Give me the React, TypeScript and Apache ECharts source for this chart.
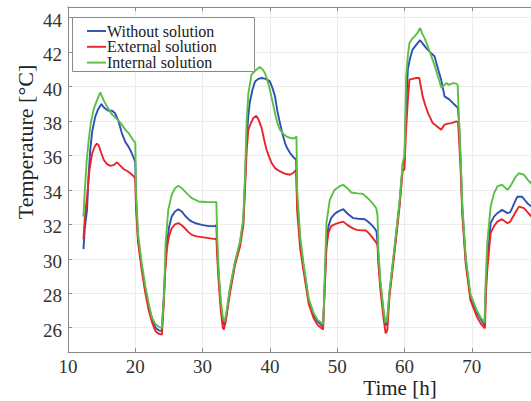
import React, { useEffect, useRef } from "react";
import * as echarts from "echarts";

const seriesNames = ["Without solution", "External solution", "Internal solution"];
const seriesColors = ["#2f4fb5", "#e8262a", "#5bbf45"];

const withoutSolution: [number, number][] = [
  [12.3, 30.56], [12.5, 31.8], [12.83, 32.84], [13.05, 34.8], [13.3, 36.3], [13.6, 37.4], [14.06, 38.27], [14.5, 38.7], [14.96, 38.99], [15.3, 38.8], [15.6, 38.7], [16.0, 38.6], [16.55, 38.6], [17.0, 38.45], [17.5, 38.0], [18.0, 37.3], [18.5, 36.8], [19.0, 36.5], [19.4, 36.2], [19.78, 35.85], [20.0, 35.6],
  [20.1, 33.5], [20.4, 31.2], [20.97, 29.5], [21.5, 28.2], [22.0, 27.2], [22.5, 26.5], [23.0, 26.0], [23.5, 25.85], [23.95, 25.8],
  [24.2, 27.5], [24.45, 29.5], [24.7, 30.9], [25.0, 31.8], [25.4, 32.45], [25.9, 32.75], [26.4, 32.88], [26.9, 32.75], [27.4, 32.5], [27.9, 32.3], [28.4, 32.16], [29.1, 32.05], [29.9, 31.97], [30.9, 31.9], [31.9, 31.9], [32.05, 31.95],
  [32.15, 30.8], [32.4, 28.9], [32.7, 27.4], [33.0, 26.4], [33.25, 26.15], [33.5, 26.6], [34.06, 28.2], [34.8, 29.74], [35.55, 30.9], [36.04, 32.07], [36.3, 34.4], [36.55, 37.0], [36.8, 38.3], [37.0, 39.05], [37.4, 39.8], [37.8, 40.3], [38.3, 40.45], [38.77, 40.5], [39.4, 40.45], [40.0, 40.3], [40.4, 39.9], [40.76, 39.43], [41.1, 38.6], [41.5, 37.88], [41.9, 37.2], [42.25, 36.72], [42.6, 36.4], [43.0, 36.14], [43.5, 35.9], [43.9, 35.75],
  [44.05, 33.4], [44.5, 31.0], [45.0, 29.55], [45.76, 27.6], [46.5, 26.74], [47.1, 26.35], [47.9, 26.05],
  [48.1, 28.0], [48.4, 30.9], [48.7, 31.9], [49.1, 32.36], [49.6, 32.6], [50.1, 32.74], [50.9, 32.88], [51.6, 32.6], [52.4, 32.36], [53.2, 32.33], [54.1, 32.3], [54.6, 32.15], [55.1, 31.97], [55.5, 31.8], [55.85, 31.58],
  [56.05, 30.6], [56.4, 28.6], [56.9, 26.84], [57.2, 26.15], [57.4, 26.2], [57.77, 28.0], [58.5, 30.5], [59.26, 33.2], [59.75, 35.5], [60.0, 35.7], [60.2, 38.5], [60.5, 41.0], [60.8, 41.6], [61.2, 42.15], [61.8, 42.45], [62.33, 42.69], [62.8, 42.45], [63.2, 42.25], [63.8, 42.0], [64.46, 41.76], [65.0, 41.0], [65.45, 40.4], [65.95, 39.43], [66.7, 39.24], [67.3, 39.0], [67.93, 38.76],
  [68.1, 38.0], [68.33, 35.75], [68.6, 32.84], [69.1, 29.94], [69.8, 27.8], [70.8, 26.84], [71.4, 26.45], [71.9, 26.15],
  [72.1, 28.5], [72.3, 29.74], [72.8, 32.07], [73.3, 32.45], [73.8, 32.65], [74.5, 32.84], [75.3, 32.65], [75.7, 32.7], [76.0, 32.94], [76.4, 33.3], [76.75, 33.6], [77.5, 33.6], [77.9, 33.4], [78.25, 33.23], [79, 33.0],
];

const externalSolution: [number, number][] = [
  [12.3, 31.14], [12.5, 32.4], [12.83, 33.6], [13.2, 35.2], [13.57, 36.1], [14.0, 36.55], [14.3, 36.68], [14.55, 36.6], [14.8, 36.3], [15.3, 35.75], [15.8, 35.5], [16.3, 35.4], [16.8, 35.45], [17.3, 35.6], [17.8, 35.4], [18.3, 35.2], [18.8, 35.1], [19.3, 34.95], [19.8, 34.78], [20.0, 34.6],
  [20.1, 33.0], [20.4, 31.0], [20.97, 29.3], [21.5, 28.0], [22.0, 27.0], [22.5, 26.3], [23.0, 25.8], [23.5, 25.65], [23.95, 25.6],
  [24.2, 27.2], [24.45, 29.3], [24.7, 30.6], [25.0, 31.3], [25.4, 31.76], [25.9, 32.0], [26.4, 32.07], [26.9, 31.95], [27.4, 31.76], [27.9, 31.55], [28.4, 31.39], [29.1, 31.3], [29.9, 31.26], [30.9, 31.2], [31.9, 31.14], [32.05, 31.2],
  [32.15, 30.3], [32.4, 28.6], [32.7, 27.0], [33.0, 26.0], [33.15, 25.9], [33.4, 26.3], [34.06, 28.0], [34.8, 29.6], [35.55, 30.7], [36.04, 31.9], [36.3, 34.0], [36.55, 36.3], [36.8, 37.5], [37.2, 37.9], [37.53, 38.17], [38.0, 38.3], [38.3, 38.1], [38.77, 37.6], [39.1, 37.0], [39.5, 36.33], [39.9, 35.9], [40.26, 35.56], [40.8, 35.25], [41.5, 35.07], [42.2, 34.95], [43.0, 34.88], [43.5, 35.0], [43.9, 35.17],
  [44.05, 32.8], [44.5, 30.6], [45.0, 29.3], [45.76, 27.4], [46.5, 26.55], [47.1, 26.15], [47.9, 25.9],
  [48.1, 27.8], [48.4, 30.6], [48.7, 31.5], [49.1, 31.9], [49.6, 32.0], [50.1, 32.07], [50.9, 32.16], [51.4, 32.0], [51.9, 31.87], [52.4, 31.75], [52.9, 31.68], [53.6, 31.65], [54.3, 31.64], [54.8, 31.45], [55.3, 31.2], [55.7, 31.0], [56.0, 30.8],
  [56.1, 29.8], [56.4, 28.3], [56.9, 26.5], [57.2, 25.67], [57.45, 25.85], [57.77, 27.8], [58.5, 30.3], [59.26, 33.0], [59.75, 35.2], [60.0, 35.17], [60.2, 37.2], [60.5, 39.24], [60.74, 40.4], [61.2, 40.45], [61.74, 40.5], [62.2, 40.5], [62.7, 39.43], [63.1, 38.9], [63.5, 38.46], [64.2, 37.88], [64.8, 37.7], [65.45, 37.5], [65.95, 37.79], [66.5, 37.85], [66.95, 37.88], [67.7, 37.98], [67.95, 37.95],
  [68.1, 37.0], [68.33, 35.3], [68.6, 32.5], [69.1, 29.7], [69.8, 27.6], [70.8, 26.6], [71.4, 26.2], [71.96, 25.97],
  [72.1, 28.0], [72.3, 29.36], [72.8, 31.49], [73.3, 31.9], [73.8, 32.16], [74.5, 32.3], [75.3, 32.07], [75.7, 32.15], [76.0, 32.36], [76.5, 32.7], [77.0, 33.03], [77.75, 32.94], [78.3, 32.7], [79, 32.4],
];

const internalSolution: [number, number][] = [
  [12.3, 32.45], [12.5, 34.0], [12.8, 35.8], [13.08, 36.9], [13.4, 37.9], [13.8, 38.66], [14.3, 39.2], [14.8, 39.66], [15.3, 39.2], [15.8, 38.85], [16.5, 38.4], [17.3, 38.1], [17.9, 37.85], [18.5, 37.5], [19.0, 37.3], [19.5, 37.0], [20.0, 36.72],
  [20.1, 34.0], [20.4, 31.5], [20.97, 29.7], [21.5, 28.4], [22.0, 27.4], [22.45, 26.6], [23.0, 26.2], [23.5, 26.05], [23.95, 25.98],
  [24.1, 27.0], [24.29, 28.0], [24.5, 30.9], [24.9, 32.84], [25.4, 33.7], [25.9, 34.1], [26.4, 34.24], [26.9, 34.1], [27.4, 33.9], [27.9, 33.7], [28.4, 33.52], [29.4, 33.33], [30.5, 33.3], [31.9, 33.29], [32.05, 33.3],
  [32.15, 31.5], [32.4, 29.2], [32.7, 27.6], [33.0, 26.6], [33.25, 26.35], [33.5, 26.8], [34.06, 28.3], [34.8, 29.8], [35.55, 31.0], [36.04, 32.3], [36.3, 34.8], [36.55, 38.0], [36.8, 39.6], [37.28, 40.7], [37.9, 40.95], [38.5, 41.14], [38.9, 41.0], [39.25, 40.79], [39.6, 40.4], [40.0, 39.82], [40.4, 39.1], [40.76, 38.46], [41.1, 37.9], [41.5, 37.5], [42.0, 37.25], [42.5, 37.1], [43.1, 37.0], [43.7, 37.0], [43.95, 37.1],
  [44.05, 34.0], [44.5, 31.3], [45.0, 29.7], [45.76, 27.7], [46.5, 26.85], [47.1, 26.45], [47.9, 26.2],
  [48.05, 27.5], [48.15, 29.0], [48.4, 32.07], [48.9, 33.42], [49.6, 34.0], [50.3, 34.2], [50.9, 34.3], [51.5, 34.1], [52.1, 33.85], [53.0, 33.8], [53.85, 33.77], [54.3, 33.6], [54.8, 33.42], [55.3, 33.2], [55.8, 32.94], [56.0, 32.5],
  [56.1, 30.6], [56.4, 28.8], [56.9, 27.0], [57.15, 26.3], [57.4, 26.4], [57.77, 28.1], [58.5, 30.6], [59.26, 33.3], [59.75, 35.6], [60.0, 36.0], [60.15, 38.5], [60.25, 40.6], [60.5, 41.8], [60.74, 42.53], [61.1, 42.75], [61.5, 42.92], [61.9, 43.1], [62.33, 43.4], [62.6, 43.1], [63.0, 42.8], [63.5, 42.3], [64.0, 41.75], [64.5, 41.2], [64.96, 40.6], [65.5, 39.92], [66.2, 40.2], [66.6, 40.1], [67.2, 40.2], [67.7, 40.17], [67.9, 40.1],
  [68.05, 38.6], [68.33, 36.0], [68.6, 33.1], [69.1, 30.1], [69.8, 27.95], [70.8, 26.95], [71.4, 26.55], [71.9, 26.3],
  [72.05, 28.5], [72.3, 30.9], [72.8, 33.03], [73.3, 33.8], [73.8, 34.2], [74.5, 34.3], [74.9, 34.15], [75.3, 34.0], [75.7, 34.2], [76.0, 34.4], [76.5, 34.75], [77.0, 34.98], [77.75, 34.88], [78.3, 34.6], [79, 34.3],
];

const xTicks = [10, 20, 30, 40, 50, 60, 70];
const yTicks = [26, 28, 30, 32, 34, 36, 38, 40, 42, 44];
const xTitle = "Time [h]";
const yTitle = "Temperature [°C]";

const FONT = "Liberation Serif";

export default function App() {
  const ref = useRef<HTMLDivElement>(null);
  useEffect(() => {
    if (!ref.current) return;
    const chart = echarts.init(ref.current, null, { renderer: "svg" });
    const seriesData = [withoutSolution, externalSolution, internalSolution];
    const axisColor = "#8a8a8a";
    const baseX = {
      type: "value",
      min: 10,
      max: 78.8,
      interval: 10,
      axisLabel: { show: false },
      axisLine: { show: true, lineStyle: { color: axisColor, width: 1 } },
      axisTick: { show: true, inside: true, length: 4, lineStyle: { color: axisColor } },
    };
    chart.setOption({
      animation: false,
      backgroundColor: "#ffffff",
      grid: { left: 68, right: 0, top: 7, bottom: 49, containLabel: false },
      xAxis: [
        {
          ...baseX,
          position: "bottom",
          splitLine: { show: true, lineStyle: { color: "#ececec", width: 1 } },
        },
        {
          ...baseX,
          position: "top",
          splitLine: { show: false },
        },
      ],
      yAxis: {
        type: "value",
        min: 24.59,
        max: 44.62,
        splitNumber: 10,
        axisLine: { show: true, lineStyle: { color: axisColor, width: 1 } },
        axisTick: { show: true, inside: true, length: 4, lineStyle: { color: axisColor } },
        axisLabel: { show: false },
        splitLine: { show: true, lineStyle: { color: "#ececec", width: 1 } },
      },
      series: seriesNames.map((name, i) => ({
        name,
        type: "line",
        data: seriesData[i],
        showSymbol: false,
        symbol: "none",
        smooth: false,
        z: i === 0 ? 1 : i === 1 ? 2 : 3,
        lineStyle: { color: seriesColors[i], width: 1.9 },
        itemStyle: { color: seriesColors[i] },
      })),
    });

    const graphics: any[] = [];
    xTicks.forEach((v) => {
      const px = chart.convertToPixel({ xAxisIndex: 0 }, v) as number;
      graphics.push({
        type: "text",
        x: px,
        y: 366,
        style: { text: String(v), fontFamily: FONT, fontSize: 19, fill: "#333", align: "center", verticalAlign: "middle" },
      });
    });
    yTicks.forEach((v) => {
      const py = chart.convertToPixel({ yAxisIndex: 0 }, v) as number;
      graphics.push({
        type: "text",
        x: 62,
        y: py + 2.5,
        style: { text: String(v), fontFamily: FONT, fontSize: 19, fill: "#333", align: "right", verticalAlign: "middle" },
      });
    });
    graphics.push({
      type: "rect",
      z: 10,
      shape: { x: 72.5, y: 17.5, width: 182, height: 54 },
      style: { fill: "#ffffff", stroke: "#8a8a8a", lineWidth: 1 },
    });
    const rowY = [31, 46.8, 62.6];
    seriesNames.forEach((name, i) => {
      graphics.push({
        type: "line",
        z: 11,
        shape: { x1: 87, y1: rowY[i], x2: 106, y2: rowY[i] },
        style: { stroke: seriesColors[i], lineWidth: 1.9 },
      });
      graphics.push({
        type: "text",
        z: 11,
        x: 107,
        y: rowY[i],
        style: { text: name, fontFamily: FONT, fontSize: 16, fill: "#222", align: "left", verticalAlign: "middle" },
      });
    });
    graphics.push({
      type: "text",
      x: 400,
      y: 387.5,
      style: { text: xTitle, fontFamily: FONT, fontSize: 21, fill: "#222", align: "center", verticalAlign: "middle" },
    });
    graphics.push({
      type: "text",
      x: 25,
      y: 142,
      rotation: Math.PI / 2,
      style: { text: yTitle, fontFamily: FONT, fontSize: 22, fill: "#222", align: "center", verticalAlign: "middle" },
    });
    chart.setOption({ graphic: graphics });
    return () => chart.dispose();
  }, []);
  return <div ref={ref} style={{ width: 531, height: 401, position: "absolute", left: 0, top: 0 }} />;
}
